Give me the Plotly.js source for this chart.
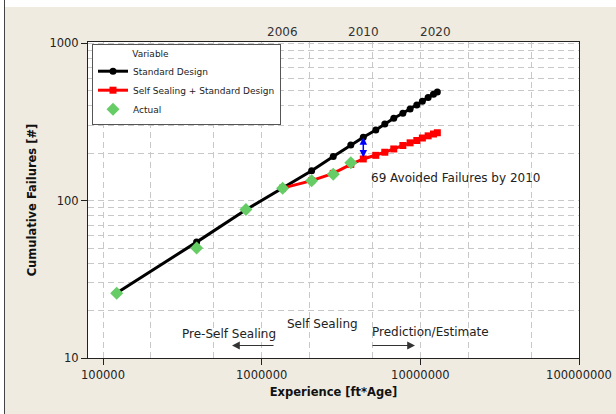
<!DOCTYPE html>
<html>
<head>
<meta charset="utf-8">
<script src="https://cdn.plot.ly/plotly-3.0.1.min.js"></script>
<style>html,body{margin:0;padding:0;background:#EFEBE1;}#chart{width:616px;height:414px;}</style>
</head>
<body>
<div id="chart"></div>
<script>
// ---- data ----
var stdX = [1.22e5, 3.89e5, 7.96e5, 1.355e6, 2.065e6, 2.826e6, 3.646e6, 4.37e6, 5.24e6, 5.97e6, 6.8e6, 7.76e6, 8.62e6, 9.5e6, 1.03e7, 1.12e7, 1.21e7, 1.28e7];
var stdY = [25.9, 54.5, 87.5, 120, 155, 191, 226, 253, 281, 307, 334, 359, 382, 405, 428, 453, 475, 490];
var sealX = [1.355e6, 2.065e6, 2.826e6, 3.646e6, 4.37e6, 5.24e6, 5.97e6, 6.8e6, 7.76e6, 8.62e6, 9.5e6, 1.03e7, 1.12e7, 1.21e7, 1.28e7];
var sealY = [120, 134, 149, 170, 184, 194, 203, 213, 224, 233, 241, 250, 258, 265, 270];
var actX = [1.22e5, 3.89e5, 7.96e5, 1.355e6, 2.065e6, 2.826e6, 3.646e6];
var actY = [25.8, 50, 87.7, 120, 134, 147, 174];
var eraX = [1.349e6, 4.37e6, 1.25e7];
var eraLabels = ['2006', '2010', '2020'];
var xTickVals = [1e5, 1e6, 1e7, 1e8];
var xTickText = ['100000', '1000000', '10000000', '100000000'];
var yTickVals = [10, 100, 1000];
var yTickText = ['10', '100', '1000'];
var seriesNames = ['Standard Design', 'Self Sealing + Standard Design', 'Actual'];
var legendTitle = 'Variable';
var avoidedIdxStd = 7, avoidedIdxSeal = 4;

// plot area in pixels
var L = 88, R = 579, T = 42, B = 358, W = 616, H = 414;
function px(x) { return (x - L) / (R - L); }
function py(y) { return (B - y) / (B - T); }

var traces = [
  {x: stdX, y: stdY, name: seriesNames[0], type: 'scatter', mode: 'lines+markers',
   line: {color: '#000000', width: 3}, marker: {symbol: 'circle', size: 7, color: '#000000'}},
  {x: sealX, y: sealY, name: seriesNames[1], type: 'scatter', mode: 'lines+markers',
   line: {color: '#FF0000', width: 3}, marker: {symbol: 'square', size: 7, color: '#FF0000'}},
  {x: actX, y: actY, name: seriesNames[2], type: 'scatter', mode: 'markers',
   marker: {symbol: 'diamond', size: 10, color: '#66CC66'}}
];

var shapes = [
  {type: 'rect', xref: 'paper', yref: 'paper', x0: px(0), x1: px(W), y0: py(0), y1: py(7), fillcolor: '#FFFFFF', line: {width: 0}, layer: 'below'},
  {type: 'rect', xref: 'paper', yref: 'paper', x0: px(0), x1: px(4), y0: py(0), y1: py(H), fillcolor: '#FFFFFF', line: {width: 0}, layer: 'below'},
  {type: 'line', xref: 'paper', yref: 'paper', x0: px(4.5), x1: px(4.5), y0: py(0), y1: py(H), line: {color: '#444444', width: 1}}
];
var annotations = [];
eraX.forEach(function (v, i) {
  shapes.push({type: 'line', xref: 'x', yref: 'paper', x0: Math.log10(v), x1: Math.log10(v), y0: 0, y1: 1,
               line: {color: '#808080', width: 3, dash: '4px,2px'}});
  annotations.push({xref: 'x', yref: 'paper', x: Math.log10(v), y: 1, yanchor: 'bottom', yshift: 1,
                    text: eraLabels[i], showarrow: false, font: {size: 12, color: '#333333'}});
});

annotations.push({xref: 'x', yref: 'y', axref: 'x', ayref: 'y',
  x: Math.log10(stdX[avoidedIdxStd]), y: Math.log10(stdY[avoidedIdxStd]),
  ax: Math.log10(sealX[avoidedIdxSeal]), ay: Math.log10(sealY[avoidedIdxSeal]),
  text: '', showarrow: true, arrowside: 'end+start', arrowhead: 2, arrowsize: 1, arrowwidth: 1.5,
  arrowcolor: '#0000FF', standoff: 0, startstandoff: 0});

annotations.push({xref: 'paper', yref: 'paper', x: px(369), y: py(178), xanchor: 'left', yanchor: 'middle',
  text: (stdY[avoidedIdxStd] - sealY[avoidedIdxSeal]) + ' Avoided Failures by 2010', showarrow: false, font: {size: 12, color: '#222222'}});
annotations.push({xref: 'paper', yref: 'paper', x: px(229), y: py(334), xanchor: 'center', yanchor: 'middle',
  text: 'Pre-Self Sealing', showarrow: false, font: {size: 12, color: '#222222'}});
annotations.push({xref: 'paper', yref: 'paper', x: px(322), y: py(324), xanchor: 'center', yanchor: 'middle',
  text: 'Self Sealing', showarrow: false, font: {size: 12, color: '#222222'}});
annotations.push({xref: 'paper', yref: 'paper', x: px(370), y: py(332), xanchor: 'left', yanchor: 'middle',
  text: 'Prediction/Estimate', showarrow: false, font: {size: 12, color: '#222222'}});
annotations.push({xref: 'paper', yref: 'paper', x: px(232), y: py(345.5), ax: 43, ay: 0, text: '',
  showarrow: true, arrowhead: 2, arrowsize: 1.3, arrowwidth: 1.2, arrowcolor: '#333333'});
annotations.push({xref: 'paper', yref: 'paper', x: px(415), y: py(345.5), ax: -44, ay: 0, text: '',
  showarrow: true, arrowhead: 2, arrowsize: 1.3, arrowwidth: 1.2, arrowcolor: '#333333'});

var grid = {gridcolor: '#C8C8C8', griddash: '6px,4px', gridwidth: 1};
var layout = {
  width: W, height: H,
  margin: {l: L, r: W - R, t: T, b: H - B, pad: 0},
  paper_bgcolor: '#EFEBE1', plot_bgcolor: '#FFFFFF',
  font: {family: 'DejaVu Sans', size: 11, color: '#222222'},
  showlegend: true,
  legend: {x: px(92), y: py(44), xanchor: 'left', yanchor: 'top', bgcolor: '#FFFFFF', bordercolor: '#555555', borderwidth: 1,
           font: {size: 9, color: '#222222'},
           title: {text: '\u00a0\u00a0\u00a0\u00a0\u00a0\u00a0\u00a0\u00a0\u00a0\u00a0\u00a0\u00a0\u00a0' + legendTitle, font: {size: 9}, side: 'top'},
           tracegroupgap: 0},
  xaxis: Object.assign({type: 'log', range: [5 - 15 / 158.7, 8], tickvals: xTickVals, ticktext: xTickText,
           showline: true, linecolor: '#222222', linewidth: 1, mirror: true, ticks: 'outside', ticklen: 6, tickcolor: '#222222',
           zeroline: false, tickfont: {size: 11.5, color: '#222222'},
           minor: {dtick: 'D2', showgrid: true, gridcolor: '#C8C8C8', griddash: '6px,4px', ticks: ''},
           title: {text: '<b>Experience [ft*Age]</b>', font: {size: 11.5, color: '#111111'}, standoff: 7}}, grid),
  yaxis: Object.assign({type: 'log', range: [1, 3.008], tickvals: yTickVals, ticktext: yTickText,
           showline: true, linecolor: '#222222', linewidth: 1, mirror: true, ticks: 'outside', ticklen: 6, tickcolor: '#222222',
           zeroline: false, tickfont: {size: 11.5, color: '#222222'},
           minor: {dtick: 'D1', showgrid: true, gridcolor: '#C8C8C8', griddash: '6px,4px', ticks: ''},
           title: {text: '<b>Cumulative Failures [#]</b>', font: {size: 11.5, color: '#111111'}, standoff: 10}}, grid),
  shapes: shapes,
  annotations: annotations
};
Plotly.newPlot('chart', traces, layout, {displayModeBar: false, staticPlot: true});
</script>
</body>
</html>
